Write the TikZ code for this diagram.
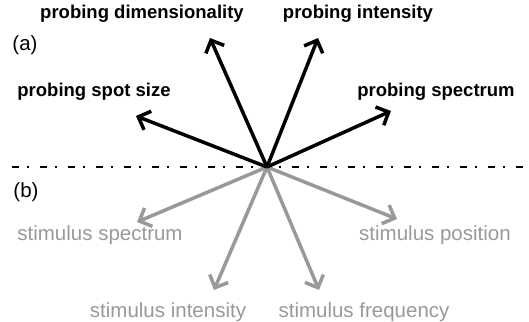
\documentclass[tikz,border=0pt]{standalone}
\usepackage{fontspec}
\setmainfont{Liberation Sans}
\usetikzlibrary{arrows.meta}
\definecolor{stimgray}{gray}{0.6}
\tikzstyle{probe} = [line width=3.5pt, -{Straight Barb[length=10pt, width=20pt, line width=3.5pt]}]
\tikzstyle{stim} = [probe, stimgray]
\tikzstyle{plabel} = [inner sep=0pt, font=\fontsize{18.5}{20}\selectfont\bfseries]
\tikzstyle{slabel} = [inner sep=0pt, text=stimgray, font=\fontsize{20.5}{22}\selectfont]
\begin{document}
\begin{tikzpicture}[x=1pt, y=-1pt]
    \useasboundingbox (0,0) rectangle (529,321);
    \draw[line width=2.2pt, dash pattern=on 7pt off 8pt on 2pt off 11pt] (12,167) -- (529,167);
    \coordinate (o) at (267,167);
    % tips of the arrows
    \coordinate (spot) at (136,116);
    \coordinate (dim) at (210,38);
    \coordinate (int) at (318,38);
    \coordinate (spec) at (391,111);
    \coordinate (sspec) at (137,222);
    \coordinate (sint) at (214,290);
    \coordinate (sfreq) at (319,290);
    \coordinate (spos) at (397,219);
    \foreach \t in {sspec, sint, sfreq, spos}
      \draw[stim] (o) -- (\t);
    \foreach \t in {spot, dim, int, spec}
      \draw[probe] (o) -- (\t);
    \node[plabel] (dimlab) at (142,14) {probing dimensionality};
    \node[plabel] (intlab) at (358,14) {probing intensity};
    \node[plabel] (spotlab) at (94,92) {probing spot size};
    \node[plabel] (speclab) at (436,92) {probing spectrum};
    \node[inner sep=0pt, font=\fontsize{20.5}{22}\selectfont] (a) at (25,45) {(a)};
    \node[inner sep=0pt, font=\fontsize{20.5}{22}\selectfont] (b) at (26,192) {(b)};
    \node[slabel] (sspeclab) at (100,235) {stimulus spectrum};
    \node[slabel] (sposlab) at (435,235) {stimulus position};
    \node[slabel] (sintlab) at (168,312) {stimulus intensity};
    \node[slabel] (sfreqlab) at (364,312) {stimulus frequency};
\end{tikzpicture}
\end{document}
